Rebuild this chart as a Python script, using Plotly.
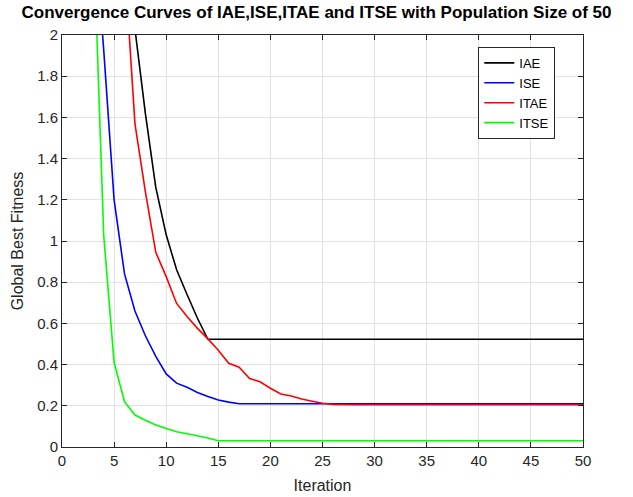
import plotly.graph_objects as go

iterations = list(range(1, 51))

iae_head = [9.0, 7.5, 6.0, 4.8, 3.8, 2.9, 2.03, 1.62, 1.26, 1.03, 0.86, 0.74, 0.625, 0.523]
iae = iae_head + [0.523] * (50 - len(iae_head))

ise_head = [8.0, 5.0, 2.6, 1.93, 1.2, 0.84, 0.66, 0.54, 0.44, 0.355, 0.31, 0.29, 0.265,
            0.245, 0.228, 0.218, 0.21]
ise = ise_head + [0.21] * (50 - len(ise_head))

itae_head = [10.0, 7.0, 5.0, 4.0, 3.0, 2.36, 1.57, 1.24, 0.945, 0.827, 0.697, 0.633, 0.576,
             0.525, 0.47, 0.406, 0.387, 0.332, 0.317, 0.285, 0.257, 0.248, 0.233, 0.222,
             0.212, 0.207]
itae = itae_head + [0.205] * (50 - len(itae_head))

itse_head = [7.0, 4.5, 2.52, 1.03, 0.41, 0.22, 0.155, 0.13, 0.107, 0.09, 0.074, 0.064,
             0.054, 0.044, 0.03]
itse = itse_head + [0.03] * (50 - len(itse_head))

series = [("IAE", iae, "#000000"), ("ISE", ise, "#0000ff"),
          ("ITAE", itae, "#ff0000"), ("ITSE", itse, "#00ff00")]

x_ticks = list(range(0, 51, 5))
y_ticks = [0, 0.2, 0.4, 0.6, 0.8, 1, 1.2, 1.4, 1.6, 1.8, 2]
y_tick_text = ["0", "0.2", "0.4", "0.6", "0.8", "1", "1.2", "1.4", "1.6", "1.8", "2"]

fig = go.Figure()
for name, vals, color in series:
    fig.add_trace(go.Scatter(x=iterations, y=vals, mode="lines", name=name,
                             line=dict(color=color, width=1.6)))

font_family = "Liberation Sans, Arial, sans-serif"
axis_common = dict(
    showline=True, linecolor="#262626", linewidth=1, mirror="ticks",
    ticks="inside", ticklen=5, tickcolor="#262626",
    showgrid=True, gridcolor="#e3e3e3", gridwidth=1, automargin=False,
    zeroline=False, tickfont=dict(family=font_family, size=15, color="#262626"),
)

fig.update_layout(
    width=633, height=497,
    margin=dict(l=62, r=50, t=35, b=50),
    paper_bgcolor="white", plot_bgcolor="white",
    font=dict(family=font_family, color="#262626"),
    title=dict(text="<b>Convergence Curves of IAE,ISE,ITAE and ITSE with Population Size of 50</b>",
               x=0.5, xanchor="center", y=0.975, yanchor="middle",
               font=dict(family=font_family, size=17, color="#000000")),
    xaxis=dict(range=[0, 50], tickvals=x_ticks,
               title=dict(text="Iteration", font=dict(family=font_family, size=16, color="#262626"),
                          standoff=11),
               **axis_common),
    yaxis=dict(range=[0, 2], tickvals=y_ticks, ticktext=y_tick_text,
               title=dict(text="Global Best Fitness", font=dict(family=font_family, size=16, color="#262626"),
                          standoff=9),
               **axis_common),
    legend=dict(x=0.799, y=0.971, xanchor="left", yanchor="top",
                bgcolor="white", bordercolor="#262626", borderwidth=1,
                font=dict(family=font_family, size=13, color="#000000"),
                tracegroupgap=0, itemwidth=30),
    showlegend=True,
)

fig.write_html("out.html")
